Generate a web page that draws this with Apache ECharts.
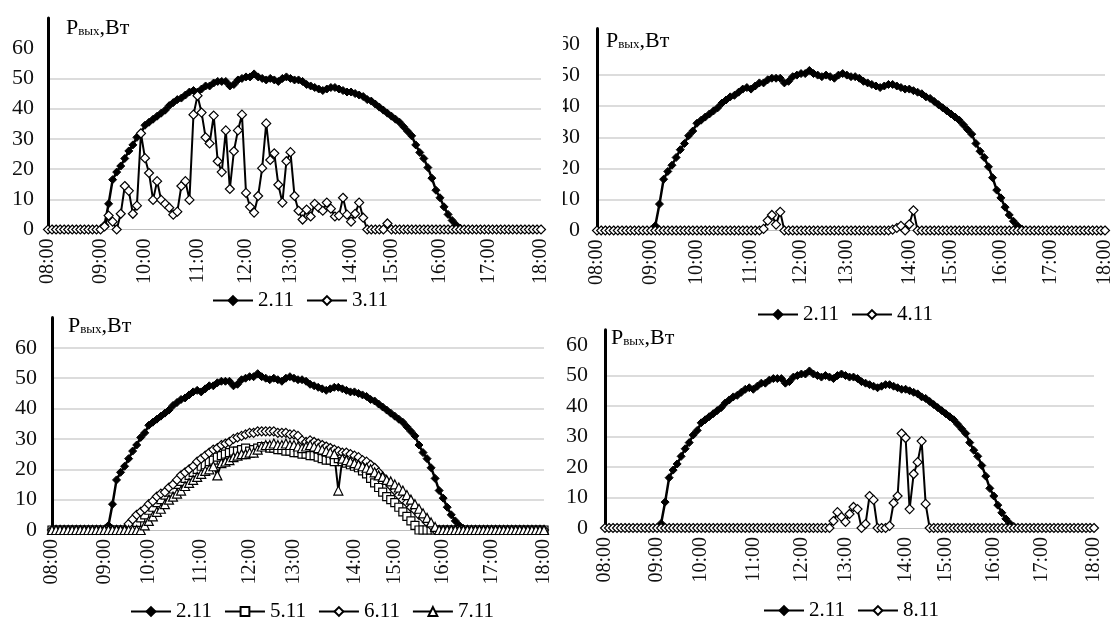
<!DOCTYPE html>
<html><head><meta charset="utf-8">
<script src="https://cdn.jsdelivr.net/npm/echarts@6/dist/echarts.min.js"></script>
<style>html,body{margin:0;padding:0;background:#fff}#c{width:1118px;height:622px}</style>
</head><body><div id="c"></div>
<script>
// Sample times (irregular logger intervals); hour marks are labelled
const times = [
"08:00","08:05","08:09","08:14","08:18","08:23","08:28","08:32","08:37","08:42","08:46","08:51","08:55",
"09:00","09:05","09:11","09:16","09:22","09:27","09:33","09:38","09:44","09:49","09:55",
"10:00","10:05","10:09","10:14","10:18","10:23","10:28","10:32","10:37","10:42","10:46","10:51","10:55",
"11:00","11:05","11:10","11:15","11:20","11:25","11:30","11:35","11:40","11:45","11:50","11:55",
"12:00","12:05","12:11","12:16","12:22","12:27","12:33","12:38","12:44","12:49","12:55",
"13:00","13:04","13:08","13:12","13:16","13:20","13:24","13:28","13:32","13:36","13:40","13:44","13:48","13:52","13:56",
"14:00","14:06","14:12","14:18","14:24","14:30","14:36","14:42","14:48","14:54",
"15:00","15:05","15:10","15:15","15:20","15:25","15:30","15:35","15:40","15:45","15:50","15:55",
"16:00","16:05","16:10","16:15","16:20","16:25","16:30","16:35","16:40","16:45","16:50","16:55",
"17:00","17:05","17:09","17:14","17:18","17:23","17:28","17:32","17:37","17:42","17:46","17:51","17:55",
"18:00"];

const s211 = [0,0,0,0,0,0,0,0,0,0, 0,0,0,0,
 1.5,8.5,16.5,19,21,23.5,26,28,30.5,32,
 34.5,35.5,36.5,37.5,38.5,39.5,41,42,43,43.5,
 44.5,45.5,46,45.5,46.5,47.5,47.5,48.5,49,49,
 49,47.5,48,49.5,50,50.5,50.5,51.5,50.5,50,
 49.5,50,49.5,49,50,50.5,50,49.5,49.5,49,
 48,47.5,47,46.5,46,46.5,47,47,46.5,46,
 45.5,45.5,45,44.5,44,43,42.5,41.5,40.5,39.5,
 38.5,37.5,36.5,35.5,34,32.5,31,28,25.5,23.5,
 20.5,17,13,10.5,7.5,5,3,1.5,0.5,
 0,0,0,0,0,0,0,0,0,0, 0,0,0,0,0,0,0,0,0,0];

const s311 = [0,0,0,0,0,0,0,0,0,0, 0,0,0,0,
 1,4.6,2.6,0,5.2,14.4,12.8,5.2,7.9,31.8,
 23.6,18.7,9.8,16,9.8,8.5,7.2,4.9,5.9,14.4,
 16,9.8,38,44.3,38.7,30.5,28.5,37.7,22.6,19,
 32.8,13.4,25.9,32.8,38,12.1,7.5,5.6,11.1,20.3,
 35.1,23,25.2,14.8,8.9,22.6,25.6,11.1,6.2,3.3,
 6.6,4.3,8.5,7.2,6.2,8.9,6.9,4.3,4.6,10.5,
 4.9,2.6,5.2,8.9,3.9,0,0,0,0,0,
 2,
 0,0,0,0,0,0,0,0,0,0, 0,0,0,0,0,0,0,0,0,0, 0,0,0,0,0,0,0,0,0,0, 0,0,0,0,0,0,0,0];

const s411 = [0,0,0,0,0,0,0,0,0,0, 0,0,0,0,0,0,0,0,0,0, 0,0,0,0,0,0,0,0,0,0, 0,0,0,0,0,0,0,0,0,0,
 0.5,3.2,5,1.9,6,
 0,
 0,0,0,0,0,0,0,0,0,0, 0,0,0,0,0,0,0,0,0,0, 0,0,0,0,0,
 0.3,0.8,1.5,0,2,6.5,
 0,0,0,0,0,0,0,0,0,0, 0,0,0,0,0,0,0,0,0,0, 0,0,0,0,0,0,0,0,0,0, 0,0,0,0,0,0,0,0,0,0, 0,0,0,0,0,0];

const s511 = [0,0,0,0,0,0,0,0,0,0, 0,0,0,0,0,0,0,0,0,0,
 1,2.5,4,5,6.5,7.5,9,10,11.5,12.5,
 13.5,15,16,17,18,19,20,21,21.5,22.5,
 23,24,24.5,25,25.5,26,26,26.5,27,26,
 26.5,27,27.5,27.5,27,27,26.5,26.5,26,26,
 25.5,25.5,25,25,24.5,24.5,24,23.5,23,23,
 22.5,23.5,22.5,22,21.5,21,20.5,19.5,18.5,17,
 15.5,14,12.5,11,10,9,7.5,6,4.5,3,
 1.5,0,
 0,0,0,0,0,0,0,0,0,0, 0,0,0,0,0,0,0,0,0,0, 0,0,0,0,0,0,0,0,0,0, 0];

const s611 = [0,0,0,0,0,0,0,0,0,0, 0,0,0,0,0,0,0,0,0,
 2,3.5,5,6,7,8.5,9.5,11,12,12.5,
 14,15,16.5,18,19,20,21,22.5,23.5,24.5,
 25.5,26.5,27,28,28.5,29,30,30.5,31,31.5,
 32,32,32.5,32.5,32.5,32.5,32.5,32,32,32,
 31.5,31.5,31,29.5,29,29.5,29,28.5,28,27.5,
 27,26.5,26,25.5,25.5,25,24.5,24,23,22.5,
 21.5,20.5,19,17.5,16,14.5,13,11.5,10,9,
 7.5,6.5,5,4,2.5,1.5,0,
 0,0,0,0,0,0,0,0,0,0, 0,0,0,0,0,0,0,0,0,0, 0,0,0,0,0,0,0];

const s711 = [0,0,0,0,0,0,0,0,0,0, 0,0,0,0,0,0,0,0,0,0, 0,0,0,
 1.5,3,4.5,6,7,8.5,10,11,12,13,
 14.5,15.5,16.5,17.5,18.5,19.5,20,21,18,22,
 22.5,23,24,24.5,25,25,25.5,25.5,26.5,27.5,
 28,28,28.5,28,28,28.5,28,28,27.5,27,
 27.5,28,27.5,27,26.5,26,25.5,25,13,23.5,
 23,22.5,22,21.5,21,20.5,20,19,18,17.5,
 16.5,16,15,14,13,11.5,10,8.5,7,5.5,
 4,2.5,1,0,
 0,0,0,0,0,0,0,0,0,0, 0,0,0,0,0,0,0,0,0,0, 0,0,0,0,0,0];

const s811 = [0,0,0,0,0,0,0,0,0,0, 0,0,0,0,0,0,0,0,0,0, 0,0,0,0,0,0,0,0,0,0, 0,0,0,0,0,0,0,0,0,0, 0,0,0,0,0,0,0,0,0,0, 0,0,0,0,0,0,0,
 2.3,5.2,3.6,2,4.6,6.9,6.2,0,1.3,10.5,
 9.2,0,0,0,0.7,8.2,10.5,31,29.5,6.2,
 17.7,21.6,28.5,7.9,
 0,0,0,0,0,0,0,0,0,0, 0,0,0,0,0,0,0,0,0,0, 0,0,0,0,0,0,0,0,0,0, 0,0,0,0,0,0,0,0,0,0, 0,0];

const seriesNames = ["2.11","3.11","4.11","5.11","6.11","7.11","8.11"];
const yTickStep = 10;
const yLabelMax = 60;

[s211,s311,s411,s511,s611,s711,s811].forEach((a,i)=>{
  if (a.length !== times.length) throw new Error('len mismatch ' + seriesNames[i] + ' ' + a.length + ' vs ' + times.length);
});

const FONT = '"Liberation Serif","Times New Roman",serif';
const GRID = '#d0d0d0';
const NONE = 'rgba(0,0,0,0)';

const styles = {
  "2.11": {symbol:'diamond', size:8, filled:true},
  "3.11": {symbol:'diamond', size:9},
  "4.11": {symbol:'diamond', size:9},
  "5.11": {symbol:'rect', size:8},
  "6.11": {symbol:'diamond', size:9},
  "7.11": {symbol:'triangle', size:9},
  "8.11": {symbol:'diamond', size:9}
};
const dataByName = {"2.11":s211,"3.11":s311,"4.11":s411,"5.11":s511,"6.11":s611,"7.11":s711,"8.11":s811};

const panels = [
  {grid:{left:48, top:18, width:493, height:211.5}, max:70, lines:[NONE,GRID,GRID,GRID,GRID,GRID,NONE,NONE], margin:14,
   names:["2.11","3.11"], legend:{left:207, top:285}, title:{x:66, y:30}},
  {grid:{left:597, top:28.5, width:508, height:202}, max:65, lines:[NONE,GRID,GRID,GRID,GRID,GRID,NONE,NONE], margin:17,
   names:["2.11","4.11"], legend:{left:752, top:299}, title:{x:606, y:43}},
  {grid:{left:52, top:317.5, width:492, height:212.5}, max:70, lines:[NONE,GRID,GRID,GRID,GRID,GRID,GRID,NONE], margin:15,
   names:["2.11","5.11","6.11","7.11"], legend:{left:125, top:596}, title:{x:68, y:328}},
  {grid:{left:605, top:329.8, width:489, height:198.2}, max:65, lines:[NONE,GRID,GRID,GRID,GRID,GRID,NONE,NONE], margin:17,
   names:["2.11","8.11"], legend:{left:758, top:595}, title:{x:611, y:340}}
];

const option = {
  backgroundColor:'#fff',
  animation:false,
  grid: panels.map(p => Object.assign({containLabel:false}, p.grid)),
  xAxis: panels.map((p,i) => ({
    type:'category', gridIndex:i, data:times, boundaryGap:false,
    axisTick:{show:false},
    axisLine:{show:true, lineStyle:{color:'#bfbfbf', width:1}},
    splitLine:{show:false},
    axisLabel:{
      rotate:90, margin:9, fontSize:20, fontFamily:FONT, color:'#111',
      interval:(idx, val) => val.endsWith(':00'),
      padding:[8,0,0,0]
    }
  })),
  yAxis: panels.map((p,i) => ({
    type:'value', gridIndex:i, min:0, max:p.max, interval:yTickStep,
    axisLine:{show:true, lineStyle:{color:'#000', width:3}},
    axisTick:{show:false},
    splitLine:{show:true, lineStyle:{color:p.lines, width:1.5}},
    axisLabel:{margin:p.margin, fontSize:22, fontFamily:FONT, color:'#111',
      formatter:v => (v % 10 === 0 && v <= yLabelMax ? String(v) : '')}
  })),
  legend: panels.map(p => ({
    data:p.names, left:p.legend.left, top:p.legend.top,
    itemWidth:40, itemHeight:11, itemGap:12, selectedMode:false,
    textStyle:{fontFamily:FONT, fontSize:21, color:'#000'}
  })),
  series: [],
  graphic: []
};

panels.forEach((p,i) => {
  p.names.forEach(n => {
    const st = styles[n];
    option.series.push({
      type:'line', name:n, data:dataByName[n], xAxisIndex:i, yAxisIndex:i,
      symbol:st.symbol, symbolSize:st.size, showAllSymbol:true,
      color:'#000',
      lineStyle:{color:'#000', width: st.filled ? 2.5 : 2},
      itemStyle: st.filled ? {color:'#000', borderColor:'#000', borderWidth:1}
                           : {color:'#fff', borderColor:'#000', borderWidth:1.2},
      emphasis:{disabled:true},
      silent:true
    });
  });
  option.graphic.push({
    type:'text', left:p.title.x, top:p.title.y - 13, z:50,
    style:{
      text:'{p|P}{s|вых}{p|,Вт}',
      rich:{
        p:{fontSize:22, fontFamily:FONT, fill:'#000', color:'#000'},
        s:{fontSize:13, fontFamily:FONT, fill:'#000', color:'#000', verticalAlign:'bottom', padding:[0,0,1,0]}
      }
    }
  });
});
// crop edge of the top-right panel's tick labels (as in the reference)
option.graphic.push({type:'rect', left:546, top:30, z:100, shape:{width:17, height:190}, style:{fill:'#fff'}});

const chart = echarts.init(document.getElementById('c'), null, {renderer:'canvas'});
chart.setOption(option);
</script>
</body></html>
